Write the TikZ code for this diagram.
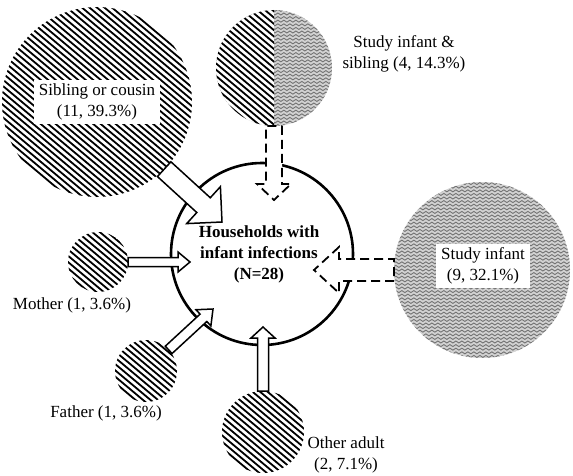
\documentclass[tikz,border=0pt]{standalone}
\usepackage{fontspec}
\setmainfont{Liberation Serif}
\usetikzlibrary{calc,decorations.pathmorphing}

% fill patterns for the circles
\newcommand{\hatchlines}{%
  \foreach \k in {-30,...,30}
    \draw[line width=1.8pt] ([xshift=\k*7.5pt]path picture bounding box.center) ++(140:170pt) -- ++(-40:340pt);}
\newcommand{\wavylines}{%
  \fill[gray!35] (path picture bounding box.south west) rectangle (path picture bounding box.north east);
  \foreach \k in {-26,...,26}
    \draw[black!55,line width=0.9pt,decorate,decoration={snake,segment length=6pt,amplitude=1pt}]
      ([yshift=\k*3.6pt]path picture bounding box.west) -- ++(190pt,0pt);}
% block arrow: style, from, to, shaft half width, head half width, head length
\newcommand{\fatarrow}[6]{%
  \coordinate (fa-base) at ($(#3)!#6!(#2)$);
  \draw[#1] ($(#2)!#4!90:(#3)$) -- ($(fa-base)!#4!90:(#3)$) -- ($(fa-base)!#5!90:(#3)$) -- (#3)
    -- ($(fa-base)!#5!-90:(#3)$) -- ($(fa-base)!#4!-90:(#3)$) -- ($(#2)!#4!-90:(#3)$) -- cycle;}

\begin{document}
\begin{tikzpicture}[x=1pt,y=-1pt]
  \tikzstyle{blob}=[circle,inner sep=0pt,outer sep=0pt]
  \tikzstyle{hatch}=[blob,path picture={\hatchlines}]
  \tikzstyle{wavy}=[blob,path picture={\wavylines}]
  \tikzstyle{split}=[blob,path picture={\wavylines
      \begin{scope}
        \clip (path picture bounding box.south west) rectangle (path picture bounding box.north);
        \fill[white] (path picture bounding box.south west) rectangle (path picture bounding box.north);
        \hatchlines
      \end{scope}}]
  \tikzstyle{txt}=[font=\fontsize{17}{20.5}\selectfont,align=center,inner sep=0pt]
  \tikzstyle{box}=[txt,fill=white,inner xsep=5pt,inner ysep=4pt]
  \tikzstyle{openarrow}=[draw,line width=1.5pt,fill=white]
  \tikzstyle{dasharrow}=[draw,line width=1.8pt,fill=white,dash pattern=on 9pt off 5pt]

  \useasboundingbox (0,0) rectangle (573,476);

  \node[hatch,minimum size=190pt] (sib) at (97,102) {};
  \node[split,minimum size=116pt] (both) at (274,68) {};
  \node[wavy,minimum size=176pt] (infant) at (482,270) {};
  \node[hatch,minimum size=60pt] (mother) at (98,262) {};
  \node[hatch,minimum size=62pt] (father) at (146,371) {};
  \node[hatch,minimum size=82pt] (other) at (263,432) {};

  \node[draw,circle,line width=2.6pt,minimum size=182pt,inner sep=0pt] (hub) at (262,254) {};

  \coordinate (t-sib) at (222,222);
  \coordinate (t-both) at (274,200);
  \coordinate (t-infant) at (314,270);
  \coordinate (t-mother) at (190,262);
  \coordinate (t-father) at (213,309);
  \coordinate (t-other) at (263,327);

  \fatarrow{openarrow}{sib.-45}{t-sib}{10pt}{25pt}{25pt}
  \fatarrow{dasharrow}{both.south}{t-both}{8pt}{17pt}{16pt}
  \fatarrow{dasharrow}{infant.west}{t-infant}{11pt}{23pt}{25pt}
  \fatarrow{openarrow}{mother.east}{t-mother}{4.5pt}{10pt}{12pt}
  \fatarrow{openarrow}{father.43}{t-father}{5pt}{11pt}{13pt}
  \fatarrow{openarrow}{other.north}{t-other}{5.5pt}{12pt}{11pt}

  \node[box] (sib-lbl) at (sib) {Sibling or cousin\\(11, 39.3\%)};
  \node[box] (infant-lbl) at (483,266) {Study infant\\(9, 32.1\%)};
  \node[txt] (both-lbl) at (404,54) {Study infant \&\\sibling (4, 14.3\%)};
  \node[txt,font=\fontsize{17}{21}\selectfont\bfseries] (hub-lbl) at (259,254) {Households with\\infant infections\\(N=28)};
  \node[txt] (mother-lbl) at (72,305) {Mother (1, 3.6\%)};
  \node[txt] (father-lbl) at (106,413) {Father (1, 3.6\%)};
  \node[txt] (other-lbl) at (346,455) {Other adult\\(2, 7.1\%)};
\end{tikzpicture}
\end{document}
